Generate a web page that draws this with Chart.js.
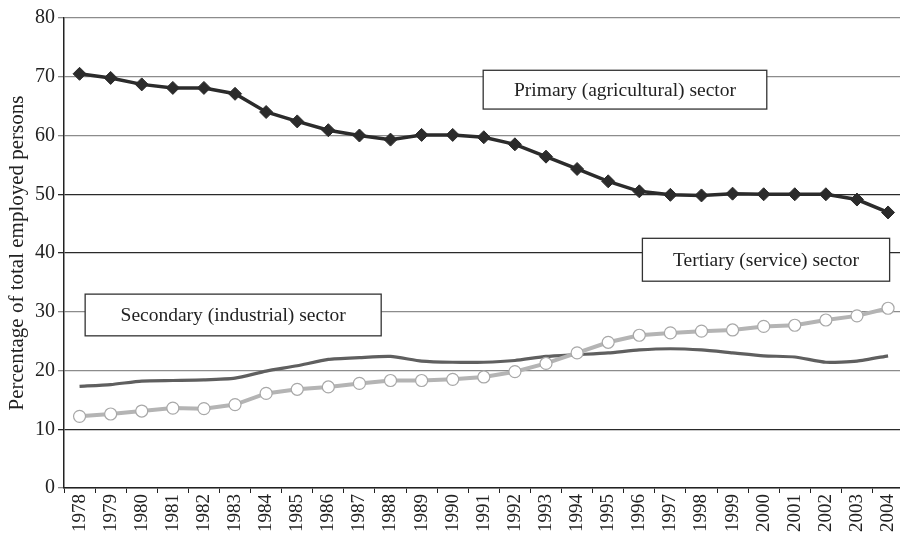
<!DOCTYPE html>
<html>
<head>
<meta charset="utf-8">
<script src="https://cdn.jsdelivr.net/npm/chart.js@4"></script>
<style>
  html, body { margin: 0; padding: 0; background: #fff; overflow: hidden; }
  #wrap { width: 912px; height: 534px; }
</style>
</head>
<body>
<div id="wrap"><canvas id="chart"></canvas></div>
<script>
// dados
const years = ['1978','1979','1980','1981','1982','1983','1984','1985','1986','1987','1988','1989','1990',
  '1991','1992','1993','1994','1995','1996','1997','1998','1999','2000','2001','2002','2003','2004'];
const primary = [70.5, 69.8, 68.7, 68.1, 68.1, 67.1, 64.0, 62.4, 60.9, 60.0, 59.3, 60.1, 60.1,
  59.7, 58.5, 56.4, 54.3, 52.2, 50.5, 49.9, 49.8, 50.1, 50.0, 50.0, 50.0, 49.1, 46.9];
const secondary = [17.3, 17.6, 18.2, 18.3, 18.4, 18.7, 19.9, 20.8, 21.9, 22.2, 22.4, 21.6, 21.4,
  21.4, 21.7, 22.4, 22.7, 23.0, 23.5, 23.7, 23.5, 23.0, 22.5, 22.3, 21.4, 21.6, 22.5];
const tertiary = [12.2, 12.6, 13.1, 13.6, 13.5, 14.2, 16.1, 16.8, 17.2, 17.8, 18.3, 18.3, 18.5,
  18.9, 19.8, 21.2, 23.0, 24.8, 26.0, 26.4, 26.7, 26.9, 27.5, 27.7, 28.6, 29.3, 30.6];
const yTicks = [0, 10, 20, 30, 40, 50, 60, 70, 80];
const yTitle = 'Percentage of total employed persons';
const labels = ['Primary (agricultural) sector', 'Tertiary (service) sector', 'Secondary (industrial) sector'];

const serif = "'Liberation Serif', 'Times New Roman', serif";

// caixas de texto (ancoradas em indice de categoria / valor)
const boxes = [
  { text: labels[0], x0: 12.98, x1: 22.1, y0: 71.1, y1: 64.5 },
  { text: labels[1], x0: 18.1, x1: 26.05, y0: 42.5, y1: 35.2 },
  { text: labels[2], x0: 0.18, x1: 9.7, y0: 33.0, y1: 25.9 }
];

const boxPlugin = {
  id: 'boxes',
  beforeDatasetsDraw(chart) {
    const { ctx, scales } = chart;
    ctx.save();
    boxes.forEach(b => {
      const l = scales.x.getPixelForValue(b.x0);
      const r = scales.x.getPixelForValue(b.x1);
      const t = scales.y.getPixelForValue(b.y0);
      const btm = scales.y.getPixelForValue(b.y1);
      ctx.fillStyle = '#fff';
      ctx.fillRect(l, t, r - l, btm - t);
      ctx.strokeStyle = '#333';
      ctx.lineWidth = 1.3;
      ctx.strokeRect(l, t, r - l, btm - t);
      ctx.fillStyle = '#222';
      ctx.font = '19.5px ' + serif;
      ctx.textAlign = 'center';
      ctx.textBaseline = 'middle';
      ctx.fillText(b.text, (l + r) / 2, (t + btm) / 2 + 1);
    });
    ctx.restore();
  }
};

const darkLines = [10, 40, 50];

new Chart(document.getElementById('chart'), {
  type: 'line',
  data: {
    labels: years,
    datasets: [
      {
        label: labels[0],
        data: primary,
        borderColor: '#2b2b2b',
        backgroundColor: '#2b2b2b',
        borderWidth: 3.5,
        pointStyle: 'rectRot',
        pointRadius: 6.5,
        pointBorderWidth: 1,
        tension: 0,
        order: 0
      },
      {
        label: labels[1],
        data: tertiary,
        borderColor: '#b4b4b4',
        backgroundColor: '#ffffff',
        pointBorderColor: '#a8a8a8',
        borderWidth: 4,
        pointStyle: 'circle',
        pointRadius: 6,
        pointBorderWidth: 1.2,
        tension: 0,
        order: 1
      },
      {
        label: labels[2],
        data: secondary,
        borderColor: '#5f5f5f',
        borderWidth: 3.2,
        pointRadius: 0,
        tension: 0.2,
        order: 2
      }
    ]
  },
  options: {
    responsive: true,
    maintainAspectRatio: false,
    animation: false,
    layout: { padding: { top: 18, right: 0, left: 0, bottom: 0 } },
    plugins: {
      legend: { display: false },
      tooltip: { enabled: false }
    },
    scales: {
      x: {
        type: 'category',
        offset: true,
        border: { display: true, color: '#222', width: 1.5 },
        grid: { drawOnChartArea: false, drawTicks: true, tickLength: 5, offset: true, color: '#222' },
        ticks: {
          color: '#222',
          font: { family: serif, size: 19 },
          minRotation: 90,
          maxRotation: 90,
          autoSkip: false,
          padding: 1
        },
        afterFit(scale) { scale.height = 46; }
      },
      y: {
        min: 0,
        max: 80,
        afterBuildTicks(scale) { scale.ticks = yTicks.map(v => ({ value: v })); },
        border: { display: true, color: '#222', width: 1.5 },
        grid: {
          color: c => darkLines.includes(c.tick && c.tick.value) ? '#2a2a2a' : '#8c8c8c',
          lineWidth: 1.3,
          tickLength: 6
        },
        ticks: {
          color: '#222',
          font: { family: serif, size: 20 },
          padding: 3
        },
        title: {
          display: true,
          text: yTitle,
          color: '#222',
          font: { family: serif, size: 21 },
          padding: { top: 5, bottom: 0 }
        },
        afterFit(scale) { scale.width = 64; }
      }
    }
  },
  plugins: [boxPlugin]
});
</script>
</body>
</html>
